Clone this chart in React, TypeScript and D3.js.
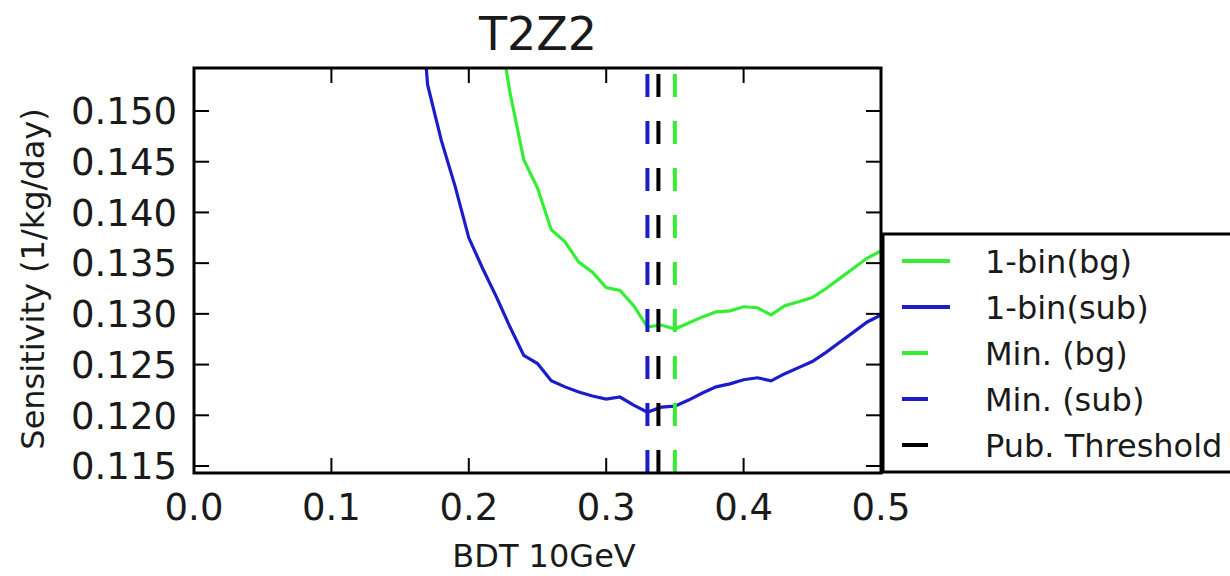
import React from 'react';
import { scaleLinear, line } from 'd3';

const width = 1230;
const height = 576;
const margin = { top: 68, bottom: 103, left: 194, right: 349 };

const bdtCuts = [
  0.16, 0.17, 0.18, 0.19, 0.2, 0.21, 0.22, 0.23, 0.24, 0.25, 0.26, 0.27,
  0.28, 0.29, 0.3, 0.31, 0.32, 0.33, 0.34, 0.35, 0.36, 0.37, 0.38, 0.39,
  0.4, 0.41, 0.42, 0.43, 0.44, 0.45, 0.46, 0.47, 0.48, 0.49, 0.5,
];
// 1-bin(bg): null where the curve is off the top of the plot
const sensBg = [
  null, null, null, null, null, null, 0.16, 0.1518, 0.1452, 0.1424, 0.1383,
  0.1371, 0.1351, 0.1341, 0.1326, 0.1323, 0.1308, 0.1287, 0.1289, 0.1285,
  0.1291, 0.1297, 0.1302, 0.1303, 0.1307, 0.1306, 0.1299, 0.1308, 0.1312,
  0.1316, 0.1325, 0.1335, 0.1345, 0.1355, 0.1362,
];
const sensSub = [
  0.17, 0.1526, 0.1471, 0.1426, 0.1375, 0.1345, 0.1317, 0.1287, 0.1259,
  0.1251, 0.1234, 0.1228, 0.1223, 0.1219, 0.1216, 0.1218, 0.121, 0.1203,
  0.1208, 0.1209, 0.1215, 0.1222, 0.1228, 0.1231, 0.1235, 0.1237, 0.1234,
  0.1241, 0.1247, 0.1253, 0.1262, 0.1272, 0.1282, 0.1292, 0.1299,
];
const minBg = 0.35;
const minSub = 0.33;
const pubThreshold = 0.338;

const xTicks = [0, 0.1, 0.2, 0.3, 0.4, 0.5];
const yTicks = [0.115, 0.12, 0.125, 0.13, 0.135, 0.14, 0.145, 0.15];

const green = '#33ee33';
const blue = '#1c1cc8';
const ink = '#1a1a1a';
const font = 'DejaVu Sans, sans-serif';

const legendItems = [
  { label: '1-bin(bg)', color: green, dashed: false },
  { label: '1-bin(sub)', color: blue, dashed: false },
  { label: 'Min. (bg)', color: green, dashed: true },
  { label: 'Min. (sub)', color: blue, dashed: true },
  { label: 'Pub. Threshold', color: '#000', dashed: true },
];

export default function App() {
  const innerWidth = width - margin.left - margin.right;
  const innerHeight = height - margin.top - margin.bottom;
  const xScale = scaleLinear().domain([0, 0.5]).range([0, innerWidth]);
  const yScale = scaleLinear().domain([0.11431, 0.15424]).range([innerHeight, 0]);

  const makePath = (vals) =>
    line()
      .defined((d) => d[1] != null)
      .x((d) => xScale(d[0]))
      .y((d) => yScale(d[1]))(bdtCuts.map((c, i) => [c, vals[i]]));

  const vlines = [
    { v: minSub, color: blue },
    { v: pubThreshold, color: '#000' },
    { v: minBg, color: green },
  ];

  return (
    <svg
      width={width}
      height={height}
      style={{ position: 'absolute', left: 0, top: 0, background: '#fff' }}
      fontFamily={font}
      fill={ink}
    >
      <defs>
        <clipPath id="plot">
          <rect width={innerWidth} height={innerHeight} />
        </clipPath>
      </defs>
      <text x={538} y={50} fontSize={46} textAnchor="middle">
        T2Z2
      </text>
      <g transform={`translate(${margin.left},${margin.top})`}>
        <g clipPath="url(#plot)">
          <path d={makePath(sensBg)} fill="none" stroke={green} strokeWidth={3.2} />
          <path d={makePath(sensSub)} fill="none" stroke={blue} strokeWidth={3.2} />
          {vlines.map((l) => (
            <line
              key={l.v}
              x1={xScale(l.v)}
              x2={xScale(l.v)}
              y1={innerHeight}
              y2={0}
              stroke={l.color}
              strokeWidth={4}
              strokeDasharray="23,24"
            />
          ))}
        </g>
        {xTicks.map((t) => (
          <g key={t} transform={`translate(${xScale(t)},0)`}>
            <line y1={innerHeight} y2={innerHeight - 15} stroke="#000" strokeWidth={2} />
            <line y1={0} y2={15} stroke="#000" strokeWidth={2} />
            <text y={innerHeight + 47} fontSize={37} textAnchor="middle">
              {t.toFixed(1)}
            </text>
          </g>
        ))}
        {yTicks.map((t) => (
          <g key={t} transform={`translate(0,${yScale(t)})`}>
            <line x1={0} x2={15} stroke="#000" strokeWidth={2} />
            <line x1={innerWidth} x2={innerWidth - 15} stroke="#000" strokeWidth={2} />
            <text x={-17} dy="0.36em" fontSize={37} textAnchor="end">
              {t.toFixed(3)}
            </text>
          </g>
        ))}
        <rect width={innerWidth} height={innerHeight} fill="none" stroke="#000" strokeWidth={3} />
      </g>
      <text x={544} y={567} fontSize={32} textAnchor="middle">
        BDT 10GeV
      </text>
      <text
        transform="translate(44,279) rotate(-90)"
        fontSize={32}
        textAnchor="middle"
      >
        Sensitivity (1/kg/day)
      </text>
      <g transform="translate(883,234)">
        <rect width={360} height={238} fill="#fff" stroke="#000" strokeWidth={3} />
        {legendItems.map((d, i) => (
          <g key={d.label} transform={`translate(0,${27 + i * 46})`}>
            <line
              x1={19}
              x2={d.dashed ? 45 : 67}
              stroke={d.color}
              strokeWidth={4}
            />
            <text x={102} dy="0.36em" fontSize={32}>
              {d.label}
            </text>
          </g>
        ))}
      </g>
    </svg>
  );
}
